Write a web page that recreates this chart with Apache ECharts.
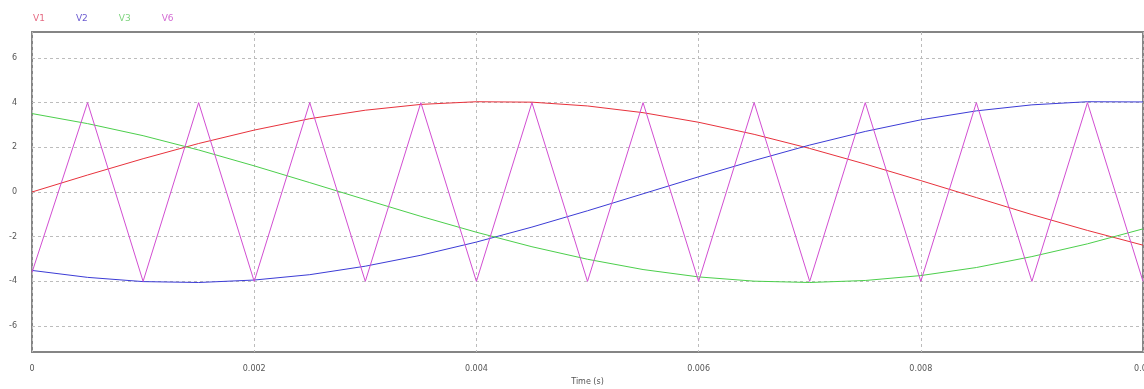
<!DOCTYPE html>
<html>
<head>
<meta charset="utf-8">
<script src="https://cdn.jsdelivr.net/npm/echarts@6/dist/echarts.min.js"></script>
<style>
  html, body { margin: 0; padding: 0; background: #fff; }
  #chart { width: 1144px; height: 389px; }
</style>
</head>
<body>
<div id="chart"></div>
<script>
'use strict';

// 时间采样点 (s)
var time = [0, 0.0005, 0.001, 0.0015, 0.002, 0.0025, 0.003, 0.0035, 0.004, 0.0045, 0.005,
            0.0055, 0.006, 0.0065, 0.007, 0.0075, 0.008, 0.0085, 0.009, 0.0095, 0.01];

// 电压值
var v1 = [0, 0.76, 1.49, 2.17, 2.77, 3.28, 3.66, 3.92, 4.04, 4.02, 3.85,
          3.55, 3.12, 2.58, 1.95, 1.25, 0.51, -0.25, -1.01, -1.72, -2.38];
var v2 = [-3.51, -3.82, -4.01, -4.05, -3.94, -3.70, -3.32, -2.83, -2.24, -1.57, -0.84,
          -0.08, 0.68, 1.41, 2.10, 2.71, 3.23, 3.63, 3.90, 4.04, 4.03];
var v3 = [3.51, 3.06, 2.52, 1.88, 1.17, 0.42, -0.34, -1.09, -1.80, -2.45, -3.01,
          -3.47, -3.80, -3.99, -4.05, -3.96, -3.74, -3.38, -2.89, -2.32, -1.65];
var v6 = [-3.6, 4, -4, 4, -4, 4, -4, 4, -4, 4, -4,
          4, -4, 4, -4, 4, -4, 4, -4, 4, -4];

var yTicks = [-6, -4, -2, 0, 2, 4, 6];

var seriesNames = ['V1', 'V2', 'V3', 'V6'];
var lineColors = ['#e8323c', '#3c3cd6', '#4ccf4c', '#d24ed2'];
var legendColors = ['#e56a82', '#6a5ad0', '#7ed47e', '#d36ad3'];

function pairs(vals) {
    return time.map(function(t, i) { return [t, vals[i]]; });
}

var myChart = echarts.init(document.getElementById('chart'));

var option = {
    animation: false,
    backgroundColor: '#fff',
    textStyle: { fontFamily: 'DejaVu Sans' },
    legend: {
        left: 23,
        top: 9,
        icon: 'none',
        itemWidth: 0,
        itemHeight: 0,
        itemGap: 26,
        textStyle: { fontSize: 9 },
        data: seriesNames.map(function(n, i) {
            return { name: n, textStyle: { color: legendColors[i] } };
        })
    },
    grid: {
        left: 32,
        right: 1,
        top: 32,
        bottom: 37,
        outerBoundsMode: 'none',
        containLabel: false,
        show: true,
        borderColor: '#858585',
        borderWidth: 2
    },
    xAxis: {
        type: 'value',
        min: 0,
        max: 0.01,
        interval: 0.002,
        name: 'Time (s)',
        nameLocation: 'middle',
        nameGap: 25,
        nameTextStyle: { fontSize: 8, color: '#555' },
        axisLine: { show: false },
        axisTick: { show: false },
        axisLabel: { fontSize: 8, color: '#555', margin: 13 },
        splitLine: { show: true, lineStyle: { color: '#bcbcbc', type: [3, 3], width: 1 } }
    },
    yAxis: {
        type: 'value',
        min: -7.16,
        max: 7.16,
        axisLine: { show: false },
        axisTick: { show: false, customValues: yTicks },
        axisLabel: { fontSize: 8, color: '#555', margin: 15, customValues: yTicks },
        splitLine: { show: true, lineStyle: { color: '#bcbcbc', type: [3, 3], width: 1 } }
    },
    series: [v1, v2, v3, v6].map(function(vals, i) {
        return {
            name: seriesNames[i],
            type: 'line',
            data: pairs(vals),
            showSymbol: false,
            symbol: 'none',
            color: lineColors[i],
            lineStyle: { width: 1, color: lineColors[i] }
        };
    })
};

myChart.setOption(option);
</script>
</body>
</html>
